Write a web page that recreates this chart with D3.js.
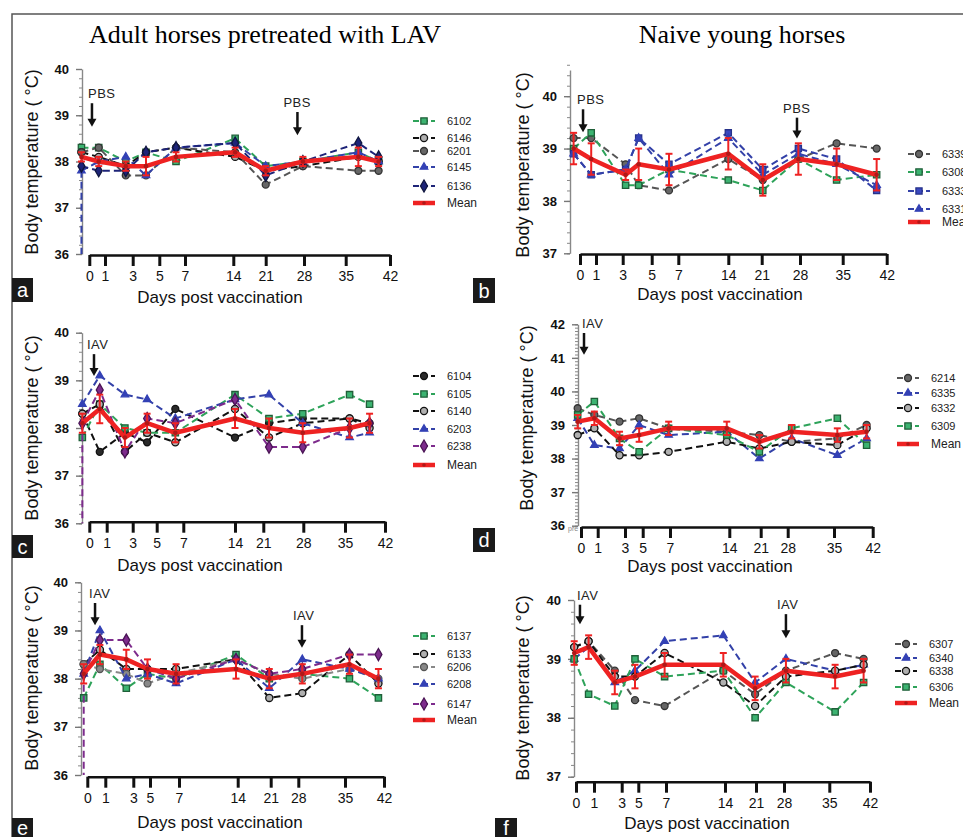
<!DOCTYPE html>
<html>
<head>
<meta charset="utf-8">
<script src="https://cdn.jsdelivr.net/npm/d3@7/dist/d3.min.js"></script>
<style>
body { margin: 0; background: #fff; }
text { font-family: Arial, "Liberation Sans", sans-serif; }
</style>
</head>
<body>
<svg id="fig" width="963" height="837"></svg>
<script>

// x tick labels, shared by every panel
var tickDays = [0, 1, 3, 5, 7, 14, 21, 28, 35, 42];

// panel a : adult horses, PBS
var daysA = [-0.5, 0.6, 2.5, 4, 6.3, 14.4, 21, 27.8, 37, 40.2];
var a6102 = [38.3, 38.3, 38.0, 38.2, 38.0, 38.5, 37.9, 38.0, 38.2, 38.0];
var a6146 = [38.2, 38.1, 37.9, 38.2, 38.3, 38.1, 37.8, 37.9, 38.1, 38.0];
var a6201 = [38.2, 38.3, 37.7, 37.7, 38.3, 38.2, 37.5, 37.9, 37.8, 37.8];
var a6145 = [37.8, 38.0, 38.1, 37.7, 38.3, 38.4, 37.9, 38.0, 38.2, 38.0];
var a6136 = [37.9, 37.8, 37.8, 38.2, 38.3, 38.4, 37.7, 38.0, 38.4, 38.1];
var aMean = [38.1, 38.0, 37.9, 37.9, 38.1, 38.2, 37.8, 38.0, 38.1, 38.0];
var aErr  = [0.1, 0.1, 0.1, 0.2, 0.1, 0.1, 0.1, 0.1, 0.2, 0.1];
var arrowsA = [["PBS", 0.17, 39.26, 38.75], ["PBS", 26.8, 39.07, 38.57]];

// panel b : naive young horses, PBS
var daysB = [-0.4, 0.7, 3.2, 4.1, 6.3, 14, 21.2, 27.7, 34, 40.4];
var b6339 = [39.2, 39.2, 38.7, 38.3, 38.2, 38.8, 38.4, 38.8, 39.1, 39.0];
var b6308 = [39.0, 39.3, 38.3, 38.3, 38.6, 38.4, 38.2, 38.8, 38.4, 38.5];
var b6333 = [38.9, 38.5, 38.6, 39.2, 38.7, 39.3, 38.6, 39.0, 38.8, 38.2];
var b6331 = [38.9, 38.5, 38.6, 39.2, 38.5, 39.2, 38.5, 38.9, 38.7, 38.3];
var bMean = [39.0, 38.8, 38.5, 38.7, 38.6, 38.9, 38.4, 38.8, 38.7, 38.5];
var bErr  = [0.3, 0.3, 0.1, 0.3, 0.3, 0.3, 0.3, 0.3, 0.3, 0.3];
var arrowsB = [["PBS", 0.19, 39.75, 39.31], ["PBS", 27.45, 39.59, 39.19]];

// panel c : adult horses, IAV
var daysC = [-0.4, 0.6, 2.4, 4.2, 6.4, 14, 22, 27.9, 35.8, 39.3];
var c6104 = [38.3, 37.5, 37.9, 37.7, 38.4, 37.8, 38.1, 38.2, 38.2, 38.1];
var c6105 = [37.8, 38.5, 38.0, 37.9, 37.9, 38.7, 38.2, 38.3, 38.7, 38.5];
var c6140 = [38.3, 38.5, 37.5, 37.9, 37.7, 38.4, 37.8, 38.1, 38.2, 38.0];
var c6203 = [38.5, 39.1, 38.7, 38.6, 38.2, 38.6, 38.7, 38.1, 37.8, 37.9];
var c6238 = [38.1, 38.8, 37.5, 38.2, 38.1, 38.6, 37.6, 37.6, 38.0, 38.1];
var cMean = [38.1, 38.4, 37.8, 38.1, 37.9, 38.2, 38.0, 37.9, 38.0, 38.1];
var cErr  = [0.2, 0.3, 0.2, 0.2, 0.2, 0.2, 0.2, 0.2, 0.2, 0.2];
var arrowsC = [["IAV", 0.27, 39.55, 39.09]];

// panel d : naive young horses, IAV
var daysD = [-0.2, 0.8, 2.6, 4.6, 6.9, 13.7, 20.7, 28.6, 35.6, 40.9];
var d6214 = [39.5, 39.3, 39.1, 39.2, 38.9, 38.8, 38.7, 38.5, 38.6, 39.0];
var d6335 = [39.2, 38.4, 38.3, 39.0, 38.7, 38.8, 38.0, 38.6, 38.1, 38.6];
var d6332 = [38.7, 38.9, 38.1, 38.1, 38.2, 38.5, 38.3, 38.5, 38.4, 38.9];
var d6309 = [39.3, 39.7, 38.6, 38.2, 38.9, 38.7, 38.2, 38.9, 39.2, 38.4];
var dMean = [39.1, 39.2, 38.6, 38.7, 38.9, 38.9, 38.5, 38.8, 38.7, 38.8];
var dErr  = [0.2, 0.2, 0.2, 0.2, 0.2, 0.2, 0.2, 0.2, 0.2, 0.2];
var arrowsD = [["IAV", 0.18, 41.74, 41.09]];

// panel e : adult horses, IAV twice
var daysE = [-0.2, 0.7, 2.5, 4.7, 6.8, 13.8, 20.7, 28.6, 35.8, 41];
var e6137 = [37.6, 38.3, 37.8, 38.1, 38.0, 38.5, 38.0, 38.1, 38.0, 37.6];
var e6133 = [38.3, 38.6, 38.2, 38.2, 38.2, 38.4, 37.6, 37.7, 38.5, 37.9];
var e6206 = [38.3, 38.2, 38.1, 37.9, 38.1, 38.4, 38.1, 38.0, 38.2, 38.0];
var e6208 = [38.1, 39.0, 38.0, 38.1, 37.9, 38.4, 37.8, 38.4, 38.2, 38.0];
var e6147 = [38.1, 38.8, 38.8, 38.2, 38.0, 38.4, 38.1, 38.2, 38.5, 38.5];
var eMean = [38.1, 38.5, 38.4, 38.2, 38.1, 38.2, 38.0, 38.1, 38.3, 38.0];
var eErr  = [0.2, 0.2, 0.2, 0.2, 0.2, 0.2, 0.2, 0.2, 0.2, 0.2];
var arrowsE = [["IAV", 0.43, 39.57, 39.11], ["IAV", 28.55, 39.11, 38.64]];

// panel f : naive young horses, IAV twice
var daysF = [-0.1, 0.7, 2.5, 4.6, 6.9, 13.8, 20.8, 28.3, 36, 40.9];
var f6307 = [39.2, 39.3, 38.8, 38.3, 38.2, 38.8, 38.4, 38.8, 39.1, 39.0];
var f6340 = [39.0, 39.2, 38.6, 38.8, 39.3, 39.4, 38.6, 39.0, 38.8, 38.9];
var f6338 = [39.2, 39.3, 38.7, 38.7, 39.1, 38.6, 38.2, 38.7, 38.8, 38.9];
var f6306 = [39.0, 38.4, 38.2, 39.0, 38.7, 38.8, 38.0, 38.6, 38.1, 38.6];
var fMean = [39.1, 39.2, 38.6, 38.7, 38.9, 38.9, 38.5, 38.8, 38.7, 38.8];
var fErr  = [0.2, 0.2, 0.2, 0.2, 0.2, 0.2, 0.2, 0.2, 0.2, 0.2];
var arrowsF = [["IAV", 0.22, 39.92, 39.59], ["IAV", 28.3, 39.76, 39.35]];



// marker / line look of each horse series
var styles = {
	greenSq:   { line: "#2ea35a", fill: "#3cb371", stroke: "#1f5f38", shape: d3.symbolSquare,   size: 40 },
	blackOpen: { line: "#111",    fill: "#b0b0b0", stroke: "#111",    shape: d3.symbolCircle,   size: 40 },
	grayDot:   { line: "#555",    fill: "#666",    stroke: "#333",    shape: d3.symbolCircle,   size: 38 },
	lightDot:  { line: "#888",    fill: "#888",    stroke: "#555",    shape: d3.symbolCircle,   size: 38 },
	blackDot:  { line: "#111",    fill: "#2a2a2a", stroke: "#111",    shape: d3.symbolCircle,   size: 38 },
	blueTri:   { line: "#3341a8", fill: "#3341b5", stroke: "#3341b5", shape: d3.symbolTriangle, size: 24 },
	blueSq:    { line: "#3341a8", fill: "#3a48c0", stroke: "#27328a", shape: d3.symbolSquare,   size: 38 },
	navyDia:   { line: "#1e2478", fill: "#1e2478", stroke: "#10163f", shape: d3.symbolDiamond,  size: 42 },
	purpleDia: { line: "#7d2b8c", fill: "#7d2b8c", stroke: "#4a1455", shape: d3.symbolDiamond,  size: 42 }
};

// layout of each panel (pixel positions in the 963x837 figure)
var layoutA = { yAxisX: 82, yDomain: [36, 40], yRange: [254, 69], minor: 0.2, xAxisY: 255,
	tickPx: [89.3, 105, 132.7, 159.3, 185, 233.3, 265.7, 304, 345.7, 390],
	xTitle: [220, 303], yTitle: [32, 162], legX: 413, legY: [121, 138, 151, 167, 186, 203],
	box: [12, 278, 21, 24], arrowDx: [-4, -14] };
var layoutB = { yAxisX: 570, yDomain: [37, 40.5], yRange: [253.3, 70], minor: 0.2, xAxisY: 254,
	tickPx: [580, 596, 622.7, 651.7, 678.3, 728.3, 761.7, 800, 842.7, 886.7],
	xTitle: [720, 300], yTitle: [523, 165], legX: 908, legY: [154, 172, 191, 209, 222],
	box: [473, 278, 22, 25], arrowDx: [-6, -14] };
var layoutC = { yAxisX: 82, yDomain: [36, 40], yRange: [523.3, 332.7], minor: 0.2, xAxisY: 521.7,
	tickPx: [89.3, 106.7, 132.7, 156.7, 183.3, 235, 263.3, 303.3, 345, 385],
	xTitle: [200, 571], yTitle: [32, 428], legX: 413, legY: [376, 394, 411, 429, 446, 465],
	box: [12, 535, 21, 23], arrowDx: [-7] };
var layoutD = { yAxisX: 578, yDomain: [36, 42], yRange: [525.7, 324.3], minor: 0.1, xAxisY: 527,
	tickPx: [581, 597.7, 625, 642.7, 670, 729.3, 760.7, 787.7, 834, 872.7],
	xTitle: [710, 572], yTitle: [527, 418], legX: 897, legY: [378, 393, 408, 426, 444],
	box: [473, 528, 22, 24], arrowDx: [-2] };
var layoutE = { yAxisX: 81, yDomain: [36, 40], yRange: [775, 582.3], minor: 0.2, xAxisY: 776.7,
	tickPx: [87.3, 105.3, 133.3, 150, 179, 237.7, 270.7, 298.3, 345, 384],
	xTitle: [220, 828], yTitle: [32, 678], legX: 413, legY: [636, 654, 667, 684, 704, 720],
	box: [12, 818, 21, 20], arrowDx: [-6, -9] };
var layoutF = { yAxisX: 574, yDomain: [37, 40], yRange: [776.7, 600], minor: 0.2, xAxisY: 781.7,
	tickPx: [576, 594, 621.7, 638.3, 666, 725, 756, 784, 829.3, 870],
	xTitle: [707, 829], yTitle: [523, 688], legX: 895, legY: [644, 658, 671, 687, 703],
	box: [495, 818, 22, 19], arrowDx: [-3, -9] };

// panel table built from the arrays above
var panels = [
	{ letter: "a", days: daysA, mean: aMean, err: aErr, arrows: arrowsA, layout: layoutA, drop: "6145",
	  series: [["6102", a6102, "greenSq"], ["6146", a6146, "blackOpen"], ["6201", a6201, "grayDot"],
	           ["6145", a6145, "blueTri"], ["6136", a6136, "navyDia"]] },
	{ letter: "b", days: daysB, mean: bMean, err: bErr, arrows: arrowsB, layout: layoutB,
	  series: [["6339", b6339, "grayDot"], ["6308", b6308, "greenSq"], ["6333", b6333, "blueSq"],
	           ["6331", b6331, "blueTri"]] },
	{ letter: "c", days: daysC, mean: cMean, err: cErr, arrows: arrowsC, layout: layoutC, drop: "6238",
	  series: [["6104", c6104, "blackDot"], ["6105", c6105, "greenSq"], ["6140", c6140, "blackOpen"],
	           ["6203", c6203, "blueTri"], ["6238", c6238, "purpleDia"]] },
	{ letter: "d", days: daysD, mean: dMean, err: dErr, arrows: arrowsD, layout: layoutD, pre: true,
	  series: [["6214", d6214, "grayDot"], ["6335", d6335, "blueTri"], ["6332", d6332, "blackOpen"],
	           ["6309", d6309, "greenSq"]] },
	{ letter: "e", days: daysE, mean: eMean, err: eErr, arrows: arrowsE, layout: layoutE, drop: "6147",
	  series: [["6137", e6137, "greenSq"], ["6133", e6133, "blackOpen"], ["6206", e6206, "lightDot"],
	           ["6208", e6208, "blueTri"], ["6147", e6147, "purpleDia"]] },
	{ letter: "f", days: daysF, mean: fMean, err: fErr, arrows: arrowsF, layout: layoutF,
	  series: [["6307", f6307, "grayDot"], ["6340", f6340, "blueTri"], ["6338", f6338, "blackOpen"],
	           ["6306", f6306, "greenSq"]] }
];

var RED = "#ee2222";
var svg = d3.select("#fig");

svg.append("rect").attr("width", 963).attr("height", 837).attr("fill", "#fff");

// figure frame (top and left)
svg.append("path").attr("d", "M12,837V14H963")
	.attr("fill", "none").attr("stroke", "#555").attr("stroke-width", 1.5);

// column titles
svg.append("text").attr("x", 265).attr("y", 43).attr("text-anchor", "middle")
	.style("font-family", "'Liberation Serif','Times New Roman',serif").style("font-size", "26px")
	.text("Adult horses pretreated with LAV");
svg.append("text").attr("x", 742).attr("y", 43).attr("text-anchor", "middle")
	.style("font-family", "'Liberation Serif','Times New Roman',serif").style("font-size", "26px")
	.text("Naive young horses");

panels.forEach(drawPanel);



function symbolPath(st) {
	return d3.symbol().type(st.shape).size(st.size)();
};

function drawPanel(P) {
	var L = P.layout;
	var x = d3.scaleLinear().domain(tickDays).range(L.tickPx);
	var y = d3.scaleLinear().domain(L.yDomain).range(L.yRange);
	var g = svg.append("g");

	// y axis: minor ticks, then labelled integer ticks
	var nMinor = Math.round((L.yDomain[1] - L.yDomain[0]) / L.minor);
	var minorVals = d3.range(nMinor + 1).map(function (i) { return L.yDomain[0] + i * L.minor; });
	var majorVals = d3.range(Math.ceil(L.yDomain[0]), Math.floor(L.yDomain[1]) + 1);

	var yMinor = g.append("g").attr("transform", "translate(" + L.yAxisX + ",0)")
		.call(d3.axisLeft(y).tickValues(minorVals).tickSize(3).tickSizeOuter(0).tickFormat(""));
	yMinor.select(".domain").attr("stroke", "#888").attr("stroke-width", 1.4);
	yMinor.selectAll(".tick line").attr("stroke", "#888");

	var yMajor = g.append("g").attr("transform", "translate(" + L.yAxisX + ",0)")
		.call(d3.axisLeft(y).tickValues(majorVals).tickSize(6).tickPadding(7).tickFormat(d3.format("d")));
	yMajor.select(".domain").remove();
	yMajor.selectAll(".tick line").attr("stroke", "#777").attr("stroke-width", 1.4);
	yMajor.selectAll(".tick text").attr("fill", "#111")
		.style("font-size", "13px").style("font-weight", "bold");

	// x axis with heavy ticks
	var xAx = g.append("g").attr("transform", "translate(0," + L.xAxisY + ")")
		.call(d3.axisBottom(x).tickValues(tickDays).tickSize(11).tickSizeOuter(0).tickPadding(5));
	xAx.select(".domain").attr("stroke", "#111").attr("stroke-width", 2.5);
	xAx.selectAll(".tick line").attr("stroke", "#111").attr("stroke-width", 3);
	xAx.selectAll(".tick text").attr("fill", "#111").style("font-size", "14px");

	if (P.pre) {
		g.append("text").attr("x", L.yAxisX - 10).attr("y", L.xAxisY + 4)
			.attr("fill", "#888").style("font-size", "7px").text("pre");
	};

	// axis titles
	g.append("text").attr("x", L.xTitle[0]).attr("y", L.xTitle[1]).attr("text-anchor", "middle")
		.attr("fill", "#111").style("font-size", "17px").text("Days post vaccination");
	g.append("text").attr("text-anchor", "middle").attr("dy", "0.35em")
		.attr("transform", "translate(" + L.yTitle[0] + "," + L.yTitle[1] + ") rotate(-90)")
		.attr("fill", "#111").style("font-size", "18px").text("Body temperature ( °C)");

	// horse series
	var line = d3.line()
		.x(function (d, i) { return x(P.days[i]); })
		.y(function (d) { return y(d); });

	P.series.forEach(function (s) {
		var st = styles[s[2]];
		g.append("path").attr("d", line(s[1])).attr("fill", "none")
			.attr("stroke", st.line).attr("stroke-width", 2).attr("stroke-dasharray", "7,4");
		if (P.drop === s[0]) {
			g.append("line")
				.attr("x1", x(P.days[0])).attr("x2", x(P.days[0]))
				.attr("y1", y(s[1][0])).attr("y2", y(L.yDomain[0]))
				.attr("stroke", st.line).attr("stroke-width", 2).attr("stroke-dasharray", "7,4");
		};
		g.selectAll(null).data(s[1]).enter().append("path")
			.attr("d", symbolPath(st))
			.attr("transform", function (d, i) { return "translate(" + x(P.days[i]) + "," + y(d) + ")"; })
			.attr("fill", st.fill).attr("stroke", st.stroke).attr("stroke-width", 1.3);
	});

	// mean with error bars
	var eb = g.selectAll(null).data(P.mean).enter().append("g")
		.attr("stroke", RED).attr("stroke-width", 2);
	eb.append("line")
		.attr("x1", function (d, i) { return x(P.days[i]); })
		.attr("x2", function (d, i) { return x(P.days[i]); })
		.attr("y1", function (d, i) { return y(d - P.err[i]); })
		.attr("y2", function (d, i) { return y(d + P.err[i]); });
	[-1, 1].forEach(function (sgn) {
		eb.append("line")
			.attr("x1", function (d, i) { return x(P.days[i]) - 3.5; })
			.attr("x2", function (d, i) { return x(P.days[i]) + 3.5; })
			.attr("y1", function (d, i) { return y(d + sgn * P.err[i]); })
			.attr("y2", function (d, i) { return y(d + sgn * P.err[i]); });
	});
	g.append("path").attr("d", line(P.mean)).attr("fill", "none")
		.attr("stroke", RED).attr("stroke-width", 4.5).attr("stroke-linejoin", "round");
	g.selectAll(null).data(P.mean).enter().append("circle")
		.attr("cx", function (d, i) { return x(P.days[i]); })
		.attr("cy", function (d) { return y(d); })
		.attr("r", 2.3).attr("fill", "#b01818");

	// vaccination arrows
	P.arrows.forEach(function (a, k) {
		var ax = x(a[1]), yTop = y(a[2]), yTip = y(a[3]);
		g.append("text").attr("x", ax + L.arrowDx[k]).attr("y", yTop - 5)
			.attr("fill", "#222").style("font-size", "13px").style("letter-spacing", "0.5px").text(a[0]);
		g.append("line").attr("x1", ax).attr("x2", ax).attr("y1", yTop).attr("y2", yTip - 7)
			.attr("stroke", "#111").attr("stroke-width", 2.5);
		g.append("path")
			.attr("d", "M" + (ax - 4.5) + "," + (yTip - 8) + "L" + (ax + 4.5) + "," + (yTip - 8) + "L" + ax + "," + yTip + "Z")
			.attr("fill", "#111");
	});

	// legend
	var items = P.series.map(function (s) { return { name: s[0], st: styles[s[2]] }; });
	items.push({ name: "Mean", st: null });
	items.forEach(function (it, k) {
		var ly = L.legY[k];
		if (it.st) {
			g.append("line").attr("x1", L.legX).attr("x2", L.legX + 22).attr("y1", ly).attr("y2", ly)
				.attr("stroke", it.st.line).attr("stroke-width", 2).attr("stroke-dasharray", "6,3");
			g.append("path").attr("d", symbolPath(it.st))
				.attr("transform", "translate(" + (L.legX + 11) + "," + ly + ")")
				.attr("fill", it.st.fill).attr("stroke", it.st.stroke).attr("stroke-width", 1.3);
		} else {
			g.append("line").attr("x1", L.legX).attr("x2", L.legX + 22).attr("y1", ly).attr("y2", ly)
				.attr("stroke", RED).attr("stroke-width", 4.5);
			g.append("circle").attr("cx", L.legX + 11).attr("cy", ly).attr("r", 1.8).attr("fill", "#b01818");
		};
		g.append("text").attr("x", L.legX + 34).attr("y", ly).attr("dy", "0.35em")
			.attr("fill", "#222").style("font-size", it.st ? "11px" : "12px").text(it.name);
	});

	// panel letter
	g.append("rect").attr("x", L.box[0]).attr("y", L.box[1]).attr("width", L.box[2]).attr("height", L.box[3])
		.attr("fill", "#1a1a1a");
	g.append("text").attr("x", L.box[0] + L.box[2] / 2).attr("y", L.box[1] + L.box[3] / 2).attr("dy", "0.35em")
		.attr("text-anchor", "middle").attr("fill", "#fff").style("font-size", "20px").text(P.letter);
};
</script>
</body>
</html>
